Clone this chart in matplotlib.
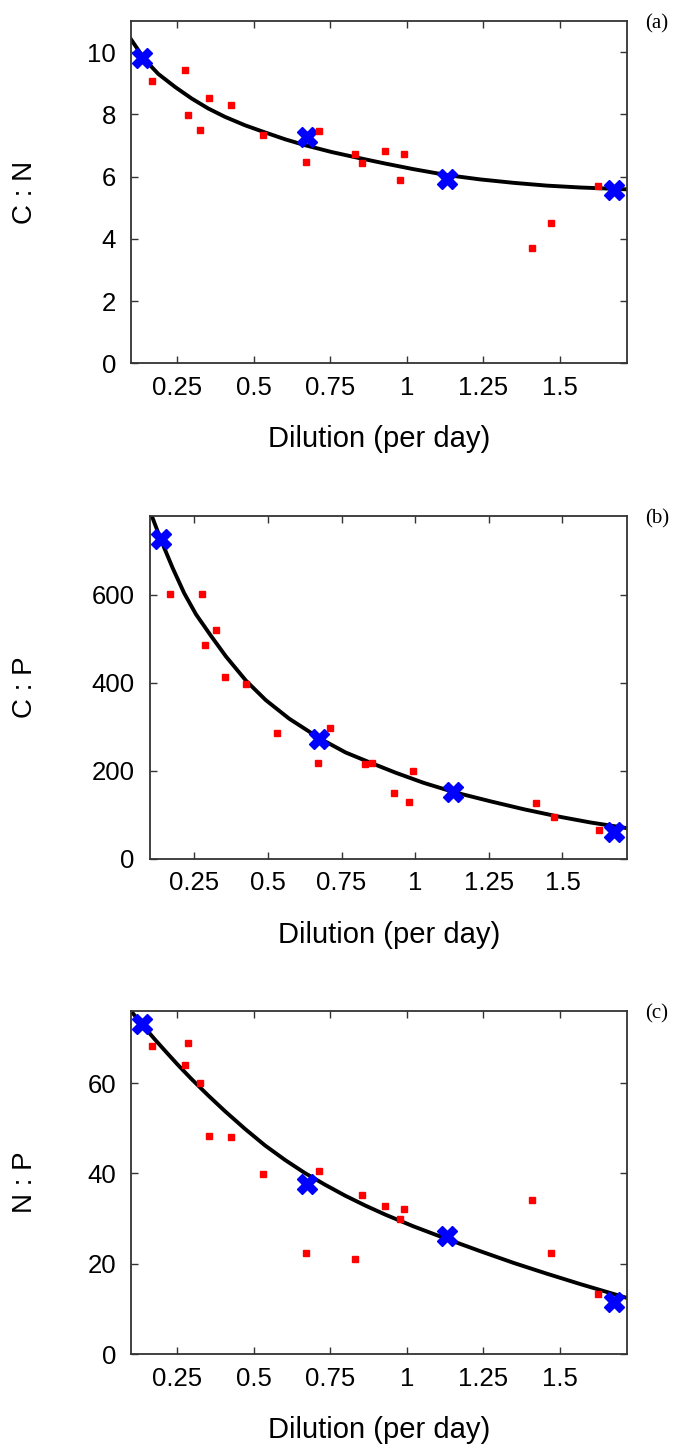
import matplotlib
matplotlib.use("Agg")
import matplotlib.pyplot as plt
from matplotlib.ticker import FixedLocator, FuncFormatter

plt.rcParams['font.family'] = ['Liberation Sans', 'DejaVu Sans']

# dilution rates of the model runs (blue crosses)
model_x = [0.136, 0.675, 1.130, 1.675]
cn_model = [9.81, 7.27, 5.91, 5.56]
cp_model = [726, 273, 153, 62]
np_model = [73.2, 37.7, 26.2, 11.5]

# observations (red squares)
obs_x = [0.169, 0.276, 0.285, 0.323, 0.353, 0.425, 0.530, 0.669, 0.712,
         0.830, 0.852, 0.928, 0.978, 0.992, 1.410, 1.470, 1.625]
cn_obs = [9.07, 9.44, 7.98, 7.50, 8.53, 8.30, 7.33, 6.47, 7.45,
          6.74, 6.45, 6.82, 5.90, 6.72, 3.71, 4.51, 5.70]
cp_obs = [601, 601, 486, 520, 414, 398, 287, 217, 298,
          215, 217, 151, 129, 199, 128, 96, 66]
np_obs = [68.3, 64.1, 68.9, 60.0, 48.2, 48.1, 39.9, 22.3, 40.5,
          21.0, 35.2, 32.9, 30.0, 32.2, 34.1, 22.4, 13.2]

# fitted curves
cn_fit_x = [0.099, 0.144, 0.188, 0.243, 0.297, 0.351, 0.406, 0.471, 0.531,
            0.602, 0.667, 0.754, 0.842, 0.929, 1.021, 1.130, 1.239, 1.348,
            1.457, 1.566, 1.72]
cn_fit_y = [10.41, 9.76, 9.30, 8.88, 8.51, 8.19, 7.92, 7.65, 7.44,
            7.20, 7.01, 6.79, 6.60, 6.42, 6.24, 6.05, 5.91, 5.80,
            5.71, 5.65, 5.59]
cp_fit_x = [0.107, 0.137, 0.177, 0.216, 0.256, 0.307, 0.358, 0.426, 0.493,
            0.572, 0.676, 0.764, 0.855, 0.934, 1.029, 1.131, 1.256, 1.369,
            1.482, 1.595, 1.72]
cp_fit_y = [778, 725, 661, 604, 556, 507, 460, 405, 361,
            319, 274, 242, 217, 196, 173, 152, 131, 113,
            97, 83, 70]
np_fit_x = [0.099, 0.139, 0.177, 0.210, 0.253, 0.297, 0.351, 0.406, 0.471,
            0.537, 0.602, 0.667, 0.733, 0.798, 0.864, 0.929, 1.021, 1.130,
            1.239, 1.348, 1.457, 1.566, 1.72]
np_fit_y = [76.0, 72.7, 69.7, 67.2, 64.0, 60.9, 57.3, 53.8, 49.9,
            46.2, 43.0, 40.1, 37.5, 35.1, 32.9, 30.9, 28.3, 25.5,
            22.8, 20.2, 17.8, 15.5, 12.4]

xticks = [0.25, 0.5, 0.75, 1, 1.25, 1.5]

panels = [
    dict(rect=[131.3, 21, 627.3, 363.3], ylabel='C : N', ymax=11,
         yticks=[0, 2, 4, 6, 8, 10], fx=cn_fit_x, fy=cn_fit_y,
         my=cn_model, oy=cn_obs, tag='(a)', tag_y=24),
    dict(rect=[150, 515.7, 627.3, 859], ylabel='C : P', ymax=780,
         yticks=[0, 200, 400, 600], fx=cp_fit_x, fy=cp_fit_y,
         my=cp_model, oy=cp_obs, tag='(b)', tag_y=519),
    dict(rect=[131.3, 1011, 627.3, 1354], ylabel='N : P', ymax=76,
         yticks=[0, 20, 40, 60], fx=np_fit_x, fy=np_fit_y,
         my=np_model, oy=np_obs, tag='(c)', tag_y=1014),
]

W, H = 674, 1446
fig = plt.figure(figsize=(W / 100, H / 100), dpi=100)

for p in panels:
    l, t, r, b = p['rect']
    ax = fig.add_axes([l / W, 1 - b / H, (r - l) / W, (b - t) / H])
    ax.plot(p['fx'], p['fy'], color='black', lw=2.8, zorder=2,
            solid_joinstyle='round')
    ax.plot(model_x, p['my'], ls='none', marker='X', ms=15, color='#0000ff',
            mec='#0000ff', zorder=3)
    ax.plot(obs_x, p['oy'], ls='none', marker='s', ms=4.3, color='#ff0000',
            mec='#ff0000', zorder=4)

    ax.set_xlim(0.1, 1.72)
    ax.set_ylim(0, p['ymax'])
    ax.xaxis.set_major_locator(FixedLocator(xticks))
    ax.xaxis.set_major_formatter(FuncFormatter(lambda v, pos: '%g' % v))
    ax.yaxis.set_major_locator(FixedLocator(p['yticks']))
    ax.tick_params(direction='in', top=True, right=True, length=5, width=1,
                   labelsize=18.5, color='#333333')
    ax.tick_params(axis='x', pad=9)
    ax.tick_params(axis='y', pad=11)
    for s in ax.spines.values():
        s.set_linewidth(1.3)
        s.set_color('#333333')

    ax.set_xlabel('Dilution (per day)', fontsize=21)
    ax.xaxis.set_label_coords(0.5, -0.18)
    ax.set_ylabel(p['ylabel'], fontsize=20)
    ax.yaxis.set_label_coords((38 - l) / (r - l), 0.5)

    fig.text(657 / W, 1 - p['tag_y'] / H, p['tag'], fontsize=15,
             family=['Liberation Serif', 'DejaVu Serif'], ha='center', va='center')

fig.savefig('out.png', dpi=100)
